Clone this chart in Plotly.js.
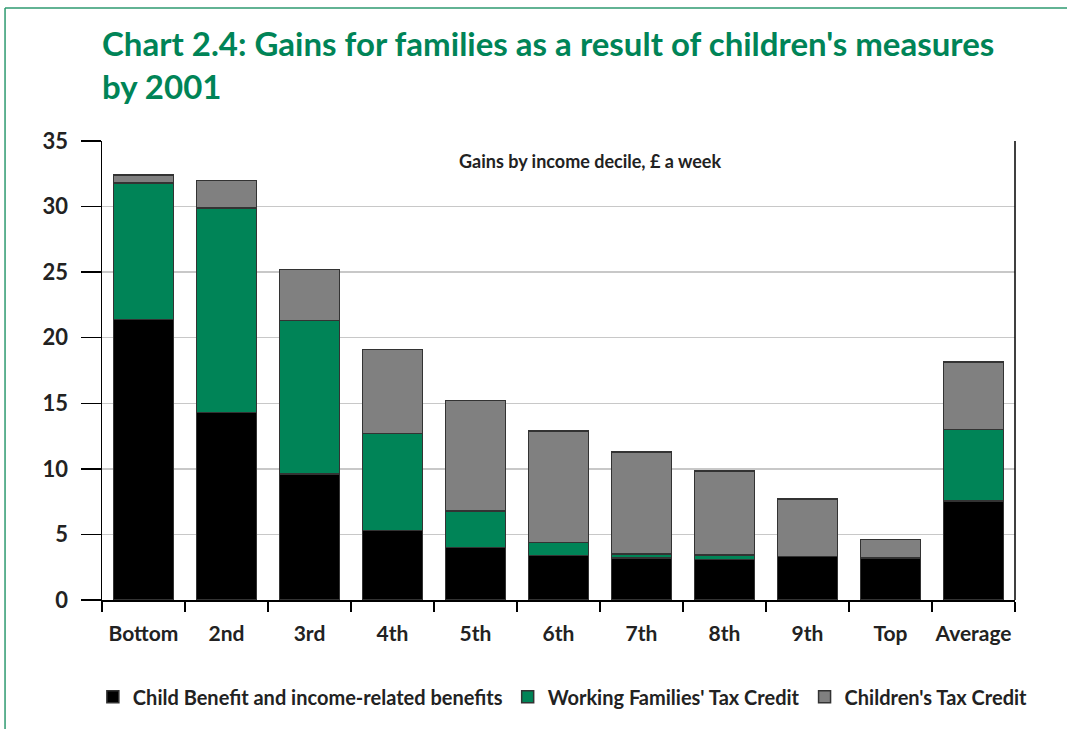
<!DOCTYPE html>
<html>
<head>
<meta charset="utf-8">
<script src="https://cdn.plot.ly/plotly-3.0.1.min.js"></script>
<style>
  html, body { margin: 0; padding: 0; background: #ffffff; }
  #chart { width: 1067px; height: 729px; }
</style>
</head>
<body>
<div id="chart"></div>
<script>
var categories = ["Bottom", "2nd", "3rd", "4th", "5th", "6th", "7th", "8th", "9th", "Top", "Average"];
var childBenefit = [21.4, 14.3, 9.6, 5.3, 4.0, 3.4, 3.2, 3.1, 3.3, 3.2, 7.55];
var wftc = [10.4, 15.6, 11.7, 7.4, 2.8, 1.0, 0.3, 0.35, 0.0, 0.0, 5.45];
var ctc = [0.6, 2.1, 3.9, 6.4, 8.4, 8.5, 7.8, 6.4, 4.4, 1.4, 5.15];
var yTicks = [0, 5, 10, 15, 20, 25, 30, 35];

var FONT = "Lato, 'Open Sans', sans-serif";
var GREEN = "#008457";
var barLine = { color: "#333333", width: 1.5 };

var traces = [
  { type: "bar", name: "Child Benefit and income-related benefits", x: categories, y: childBenefit,
    marker: { color: "#000000", line: barLine } },
  { type: "bar", name: "Working Families' Tax Credit", x: categories, y: wftc,
    marker: { color: GREEN, line: barLine } },
  { type: "bar", name: "Children's Tax Credit", x: categories, y: ctc,
    marker: { color: "#808080", line: barLine } }
];

var layout = {
  width: 1067, height: 729,
  paper_bgcolor: "#ffffff", plot_bgcolor: "#ffffff",
  margin: { l: 102, r: 52, t: 141, b: 129 },
  barmode: "stack",
  bargap: 0.28,
  font: { family: FONT, color: "#222222" },
  xaxis: {
    type: "category",
    showgrid: false,
    showline: true, linecolor: "#000000", linewidth: 1.5,
    ticks: "outside", tickson: "boundaries", ticklen: 10, tickwidth: 1.5, tickcolor: "#000000",
    tickangle: 0,
    tickfont: { family: FONT, size: 21, color: "#222222", weight: "bold" },
    ticklabelstandoff: 14,
    fixedrange: true
  },
  yaxis: {
    range: [0, 35],
    tickvals: yTicks,
    ticktext: yTicks.map(String),
    showgrid: true, gridcolor: "#c8c8c8", gridwidth: 1.5,
    zeroline: false,
    showline: true, linecolor: "#000000", linewidth: 1.5,
    ticks: "outside", ticklen: 20, tickwidth: 1.5, tickcolor: "#000000",
    tickfont: { family: FONT, size: 22, color: "#222222", weight: "bold" },
    ticklabelstandoff: 8,
    fixedrange: true
  },
  showlegend: true,
  legend: {
    orientation: "h",
    x: -0.01, xanchor: "left",
    y: -0.211, yanchor: "middle",
    font: { family: FONT, size: 20, color: "#222222", weight: "bold" },
    itemwidth: 30,
    traceorder: "normal"
  },
  annotations: [
    { text: "<b>Chart 2.4: Gains for families as a result of children's measures<br>by 2001</b>",
      xref: "paper", yref: "paper", x: -0.0022, y: 1.262, xanchor: "left", yanchor: "top",
      align: "left", showarrow: false,
      font: { family: FONT, size: 33, color: GREEN } },
    { text: "<b>Gains by income decile, £ a week</b>", xref: "paper", yref: "paper",
      x: 0.5345, y: 0.956, xanchor: "center", yanchor: "middle", showarrow: false,
      font: { family: FONT, size: 18, color: "#222222" } }
  ],
  shapes: [
    { type: "line", xref: "paper", yref: "paper", x0: 1, x1: 1, y0: 0, y1: 1,
      line: { color: "#000000", width: 1.5 } },
    { type: "line", xref: "paper", yref: "paper", x0: -0.1062, x1: 1.06, y0: 1.2898, y1: 1.2898,
      line: { color: "#2e9a70", width: 1.5 } },
    { type: "line", xref: "paper", yref: "paper", x0: -0.1062, x1: -0.1062, y0: 1.2898, y1: -0.29,
      line: { color: "#2e9a70", width: 1.5 } }
  ]
};

Plotly.newPlot("chart", traces, layout, { displayModeBar: false, staticPlot: true });
</script>
</body>
</html>
